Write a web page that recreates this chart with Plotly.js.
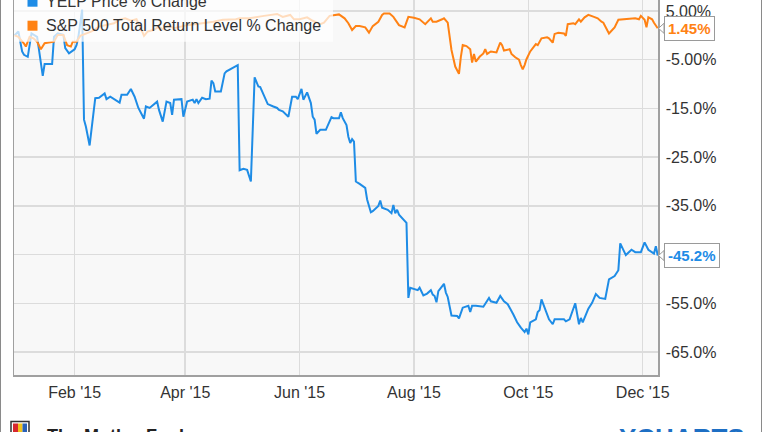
<!DOCTYPE html>
<html><head><meta charset="utf-8">
<script src="https://cdn.plot.ly/plotly-3.0.1.min.js"></script>
<style>html,body{margin:0;padding:0;background:#fff;}#chart{width:764px;height:432px;}</style>
</head><body><div id="chart"></div>
<script>
const seriesNames = ['YELP Price % Change', 'S&P 500 Total Return Level % Change'];
const seriesColors = ['#1e8ce6', '#ff8214'];

const yelpDates = ['2014-12-31','2015-01-02','2015-01-04','2015-01-05','2015-01-07','2015-01-08','2015-01-09','2015-01-12','2015-01-13','2015-01-15','2015-01-16','2015-01-20','2015-01-21','2015-01-23','2015-01-26','2015-01-27','2015-01-29','2015-02-01','2015-02-02','2015-02-03','2015-02-05','2015-02-06','2015-02-07','2015-02-09','2015-02-12','2015-02-14','2015-02-17','2015-02-18','2015-02-20','2015-02-22','2015-02-25','2015-02-26','2015-03-01','2015-03-03','2015-03-05','2015-03-07','2015-03-10','2015-03-11','2015-03-13','2015-03-17','2015-03-18','2015-03-20','2015-03-22','2015-03-24','2015-03-25','2015-03-26','2015-03-30','2015-03-31','2015-04-02','2015-04-05','2015-04-06','2015-04-07','2015-04-08','2015-04-10','2015-04-12','2015-04-14','2015-04-15','2015-04-16','2015-04-17','2015-04-20','2015-04-22','2015-04-23','2015-04-28','2015-04-29','2015-04-30','2015-05-02','2015-05-04','2015-05-06','2015-05-08','2015-05-10','2015-05-11','2015-05-13','2015-05-15','2015-05-18','2015-05-20','2015-05-21','2015-05-23','2015-05-26','2015-05-28','2015-05-30','2015-05-31','2015-06-02','2015-06-03','2015-06-05','2015-06-07','2015-06-08','2015-06-09','2015-06-10','2015-06-12','2015-06-15','2015-06-16','2015-06-18','2015-06-19','2015-06-22','2015-06-23','2015-06-24','2015-06-26','2015-06-27','2015-06-28','2015-06-29','2015-06-30','2015-07-01','2015-07-03','2015-07-06','2015-07-07','2015-07-09','2015-07-10','2015-07-13','2015-07-14','2015-07-15','2015-07-18','2015-07-20','2015-07-21','2015-07-22','2015-07-23','2015-07-24','2015-07-28','2015-07-29','2015-07-30','2015-08-01','2015-08-03','2015-08-04','2015-08-06','2015-08-08','2015-08-10','2015-08-11','2015-08-12','2015-08-13','2015-08-14','2015-08-17','2015-08-18','2015-08-19','2015-08-21','2015-08-24','2015-08-25','2015-08-27','2015-08-30','2015-08-31','2015-09-01','2015-09-03','2015-09-07','2015-09-10','2015-09-11','2015-09-14','2015-09-16','2015-09-18','2015-09-20','2015-09-23','2015-09-25','2015-09-27','2015-09-29','2015-09-30','2015-10-01','2015-10-02','2015-10-05','2015-10-06','2015-10-07','2015-10-08','2015-10-10','2015-10-12','2015-10-14','2015-10-15','2015-10-20','2015-10-21','2015-10-23','2015-10-26','2015-10-28','2015-10-29','2015-10-30','2015-11-02','2015-11-04','2015-11-06','2015-11-08','2015-11-11','2015-11-13','2015-11-16','2015-11-18','2015-11-19','2015-11-22','2015-11-25','2015-11-27','2015-11-30','2015-12-02','2015-12-04','2015-12-07','2015-12-08','2015-12-09'];
const yelpValues = [0,0.8,-3.3,-4.0,-4.4,-1.6,0.4,-0.3,-3.3,-8.3,-5.9,-5.9,-0.3,0.4,0.1,-2.6,-3.7,-2.85,-2.0,-0.3,5.3,-17.3,-18.7,-22.6,-12.9,-12.8,-11.9,-13.1,-12.6,-13.1,-13.8,-12.2,-12.2,-11.0,-12.6,-14.9,-17.1,-14.6,-14.9,-13.6,-15.3,-17.7,-13.6,-13.9,-16.3,-13.2,-13.1,-16.7,-13.6,-13.2,-13.9,-13.1,-13.9,-12.8,-13.1,-13.0,-9.3,-9.8,-11.5,-11.5,-7.8,-7.4,-6.3,-6.1,-27.7,-27.4,-27.6,-30.0,-8.6,-10.5,-10.6,-12.4,-14.1,-14.6,-14.9,-15.3,-15.6,-16.7,-12.6,-12.6,-13.1,-11.0,-13.2,-11.7,-13.9,-16.7,-17.3,-20.2,-19.4,-19.4,-18.4,-16.8,-17.0,-17.0,-15.8,-17.0,-18.4,-20.8,-22.1,-21.3,-21.8,-30.0,-30.5,-31.3,-33.7,-36.3,-36.1,-35.0,-33.9,-35.4,-35.8,-36.5,-34.8,-36.5,-35.8,-36.8,-38.5,-53.9,-51.8,-52.0,-52.3,-51.8,-53.4,-53.0,-52.3,-53.2,-53.5,-54.8,-52.5,-51.0,-52.8,-53.7,-57.5,-57.6,-58.1,-55.9,-55.5,-56.8,-55.5,-55.5,-55.7,-53.9,-54.6,-54.9,-53.5,-54.6,-55.2,-57.3,-58.9,-60.0,-60.9,-60.2,-61.4,-58.9,-58.3,-56.8,-56.4,-54.2,-56.3,-58.3,-59.3,-58.3,-58.3,-58.7,-58.3,-55.0,-59.3,-58.0,-58.9,-56.1,-54.9,-53.1,-53.9,-54.1,-50.1,-49.4,-48.2,-42.7,-45.1,-44.0,-44.5,-44.5,-42.5,-44.0,-44.8,-43.3,-45.2];

const spDates = ['2014-12-31','2015-01-02','2015-01-05','2015-01-06','2015-01-08','2015-01-10','2015-01-12','2015-01-14','2015-01-16','2015-01-21','2015-01-23','2015-01-26','2015-01-28','2015-01-30','2015-01-31','2015-02-02','2015-02-04','2015-02-08','2015-02-10','2015-02-14','2015-02-18','2015-02-22','2015-02-25','2015-02-28','2015-03-03','2015-03-06','2015-03-09','2015-03-10','2015-03-12','2015-03-15','2015-03-18','2015-03-20','2015-03-23','2015-03-26','2015-04-02','2015-04-09','2015-04-14','2015-04-16','2015-04-21','2015-04-23','2015-04-28','2015-04-30','2015-05-05','2015-05-13','2015-05-16','2015-05-20','2015-05-23','2015-05-27','2015-05-29','2015-06-01','2015-06-05','2015-06-08','2015-06-12','2015-06-14','2015-06-17','2015-06-20','2015-06-22','2015-06-25','2015-06-27','2015-06-29','2015-07-01','2015-07-03','2015-07-06','2015-07-08','2015-07-09','2015-07-10','2015-07-13','2015-07-15','2015-07-16','2015-07-19','2015-07-21','2015-07-24','2015-07-27','2015-07-28','2015-07-29','2015-08-01','2015-08-04','2015-08-07','2015-08-10','2015-08-11','2015-08-13','2015-08-16','2015-08-17','2015-08-19','2015-08-20','2015-08-21','2015-08-23','2015-08-25','2015-08-26','2015-08-27','2015-08-29','2015-08-31','2015-09-01','2015-09-02','2015-09-03','2015-09-05','2015-09-07','2015-09-08','2015-09-09','2015-09-11','2015-09-14','2015-09-16','2015-09-17','2015-09-18','2015-09-21','2015-09-22','2015-09-24','2015-09-26','2015-09-27','2015-09-28','2015-09-29','2015-09-30','2015-10-02','2015-10-04','2015-10-05','2015-10-06','2015-10-08','2015-10-11','2015-10-12','2015-10-14','2015-10-15','2015-10-17','2015-10-20','2015-10-21','2015-10-22','2015-10-25','2015-10-26','2015-10-28','2015-10-29','2015-10-31','2015-11-02','2015-11-05','2015-11-07','2015-11-09','2015-11-10','2015-11-13','2015-11-15','2015-11-16','2015-11-18','2015-11-21','2015-11-23','2015-11-27','2015-11-29','2015-11-30','2015-12-02','2015-12-03','2015-12-04','2015-12-06','2015-12-07','2015-12-09'];
const spValues = [0,-0.3,-1.7,-2.3,-0.3,-0.6,-1.3,-2.85,-1.6,-1.3,0.1,0.1,-2.0,-2.3,-1.3,-1.3,-0.1,0.4,0.8,1.8,2.1,2.5,3.2,3.5,3.0,3.3,0.8,-0.1,0.8,1.1,1.8,1.25,2.1,1.45,2.1,2.4,2.6,2.8,3.2,3.2,3.3,3.5,3.5,4.0,4.2,4.4,3.8,4.2,3.3,3.3,3.7,3.0,2.3,2.6,4.0,4.1,4.3,3.5,2.5,1.1,1.9,1.9,1.65,0.55,1.25,1.9,2.8,4.2,4.5,4.5,3.8,2.1,1.65,3.0,3.8,3.6,3.3,2.3,3.5,2.8,2.8,3.3,3.5,2.6,-0.9,-3.0,-6.4,-7.9,-4.4,-2.0,-2.2,-2.85,-5.6,-3.8,-5.4,-4.4,-3.7,-2.85,-3.8,-3.3,-3.5,-1.5,-2.0,-3.1,-2.85,-3.8,-4.5,-5.0,-6.1,-7.0,-6.1,-4.9,-3.3,-2.3,-1.8,-2.0,-0.6,-0.4,-0.6,-1.5,0.3,0.55,0.4,-0.1,2.3,2.5,2.3,3.3,2.8,3.7,4.2,3.8,3.5,2.8,2.6,0.4,1.1,1.65,3.2,3.3,3.5,3.5,3.3,4.0,3.2,1.65,3.7,3.3,2.6,1.45];

const xTickDates = ['2015-02-01','2015-04-01','2015-06-01','2015-08-01','2015-10-01','2015-12-01'];
const xTickLabels = ["Feb '15","Apr '15","Jun '15","Aug '15","Oct '15","Dec '15"];
const yTickVals = [5,-5,-15,-25,-35,-45,-55,-65];
const yTickLabels = ['5.00%','-5.00%','-15.0%','-25.0%','-35.0%','','-55.0%','-65.0%'];
const endLabels = ['-45.2%', '1.45%'];

const yRange = [-69.72, 7.26];
const xRange = ['2014-12-30 16:00', '2015-12-09 03:30'];

// page geometry (pixels) of the plot area
const L = 14, R = 658, T = 0, B = 375;
const px = p => (p - L) / (R - L);
const py = p => 1 - (p - T) / (B - T);
const vy = v => (v - yRange[0]) / (yRange[1] - yRange[0]);

const traces = [
  {x: yelpDates, y: yelpValues, type: 'scatter', mode: 'lines', name: seriesNames[0],
   line: {color: seriesColors[0], width: 2}, hoverinfo: 'skip'},
  {x: spDates, y: spValues, type: 'scatter', mode: 'lines', name: seriesNames[1],
   line: {color: seriesColors[1], width: 2}, hoverinfo: 'skip'}
];

const lastVals = [yelpValues[yelpValues.length - 1], spValues[spValues.length - 1]];

const shapes = [
  // legend background
  {type: 'rect', xref: 'paper', yref: 'paper', x0: px(14), x1: px(333), y0: py(41.7), y1: py(-5),
   fillcolor: 'rgba(255,255,255,0.72)', line: {width: 0}, layer: 'above'},
  {type: 'rect', xref: 'paper', yref: 'paper', x0: px(27.5), x1: px(37.5), y0: py(6.7), y1: py(-3.3),
   fillcolor: seriesColors[0], line: {width: 0}, layer: 'above'},
  {type: 'rect', xref: 'paper', yref: 'paper', x0: px(27.5), x1: px(37.5), y0: py(30.7), y1: py(20.7),
   fillcolor: seriesColors[1], line: {width: 0}, layer: 'above'},
  // outer frame
  {type: 'rect', xref: 'paper', yref: 'paper', x0: px(0.5), x1: px(761.5), y0: py(445), y1: py(-5),
   fillcolor: 'rgba(0,0,0,0)', line: {color: '#8a8a8a', width: 1}, layer: 'above'},
  // footer logo
  {type: 'rect', xref: 'paper', yref: 'paper', x0: px(11), x1: px(29), y0: py(440), y1: py(421.5),
   fillcolor: '#ffffff', line: {color: '#333', width: 1.5}, layer: 'above'},
  {type: 'rect', xref: 'paper', yref: 'paper', x0: px(13), x1: px(18), y0: py(440), y1: py(423.5),
   fillcolor: '#d8282e', line: {width: 0}, layer: 'above'},
  {type: 'rect', xref: 'paper', yref: 'paper', x0: px(18), x1: px(22.5), y0: py(440), y1: py(423.5),
   fillcolor: '#f2c21b', line: {width: 0}, layer: 'above'},
  {type: 'rect', xref: 'paper', yref: 'paper', x0: px(22.5), x1: px(27), y0: py(440), y1: py(423.5),
   fillcolor: '#2a62b8', line: {width: 0}, layer: 'above'}
];

// pointer notches of the end-value boxes
lastVals.forEach(v => {
  const c = vy(v);
  const h = 5 / (B - T);
  shapes.push({type: 'path', xref: 'paper', yref: 'paper',
    path: `M ${px(664)} ${c + h} L ${px(658.5)} ${c} L ${px(664)} ${c - h} Z`,
    fillcolor: '#ffffff', line: {color: '#9a9a9a', width: 1}, layer: 'above'});
});

const annotations = [
  {xref: 'paper', yref: 'paper', x: px(44), y: py(1.5), xanchor: 'left', yanchor: 'middle',
   text: seriesNames[0], showarrow: false, font: {size: 16, color: '#333'}},
  {xref: 'paper', yref: 'paper', x: px(43.5), y: py(25.5), xanchor: 'left', yanchor: 'middle',
   text: seriesNames[1], showarrow: false, font: {size: 16, color: '#333'}},
  {xref: 'paper', yref: 'y', x: px(663.5), y: lastVals[0], xanchor: 'left', yanchor: 'middle',
   text: '<b>' + endLabels[0] + '</b>', showarrow: false, font: {size: 15, color: seriesColors[0]},
   bgcolor: '#ffffff', bordercolor: '#9a9a9a', borderwidth: 1, borderpad: 3},
  {xref: 'paper', yref: 'y', x: px(663.5), y: lastVals[1], xanchor: 'left', yanchor: 'middle',
   text: '<b>' + endLabels[1] + '</b>', showarrow: false, font: {size: 15, color: seriesColors[1]},
   bgcolor: '#ffffff', bordercolor: '#9a9a9a', borderwidth: 1, borderpad: 3},
  {xref: 'paper', yref: 'paper', x: px(45), y: py(424), xanchor: 'left', yanchor: 'top',
   text: '<b>The Motley Fool</b>', showarrow: false, font: {size: 18, color: '#222'}},
  {xref: 'paper', yref: 'paper', x: px(617), y: py(421), xanchor: 'left', yanchor: 'top',
   text: '<b>YCHARTS</b>', showarrow: false, font: {size: 26, color: '#1d6fc4'}}
];

const layout = {
  width: 764, height: 432,
  margin: {l: L, r: 764 - R, t: T, b: 432 - B, pad: 0},
  paper_bgcolor: '#ffffff', plot_bgcolor: '#f8f8f8',
  font: {family: '"Liberation Sans", Arial, sans-serif', size: 16, color: '#333'},
  showlegend: false,
  xaxis: {type: 'date', range: xRange, tickmode: 'array', tickvals: xTickDates, ticktext: xTickLabels,
    ticks: '', showgrid: true, gridcolor: '#dcdcdc', gridwidth: 1.5, showline: true, linecolor: '#a0a0a0',
    linewidth: 1.5, zeroline: false, tickfont: {size: 16, color: '#333'}, ticklabelstandoff: 2, fixedrange: true},
  yaxis: {range: yRange, side: 'right', tickmode: 'array', tickvals: yTickVals, ticktext: yTickLabels,
    ticks: '', showgrid: true, gridcolor: '#dcdcdc', gridwidth: 1.5, showline: true, mirror: true,
    linecolor: '#a0a0a0', linewidth: 1.5, zeroline: false, tickfont: {size: 16, color: '#333'},
    ticklabelstandoff: 3, fixedrange: true},
  shapes: shapes,
  annotations: annotations
};

Plotly.newPlot('chart', traces, layout, {staticPlot: true, displayModeBar: false});
</script>
</body></html>
